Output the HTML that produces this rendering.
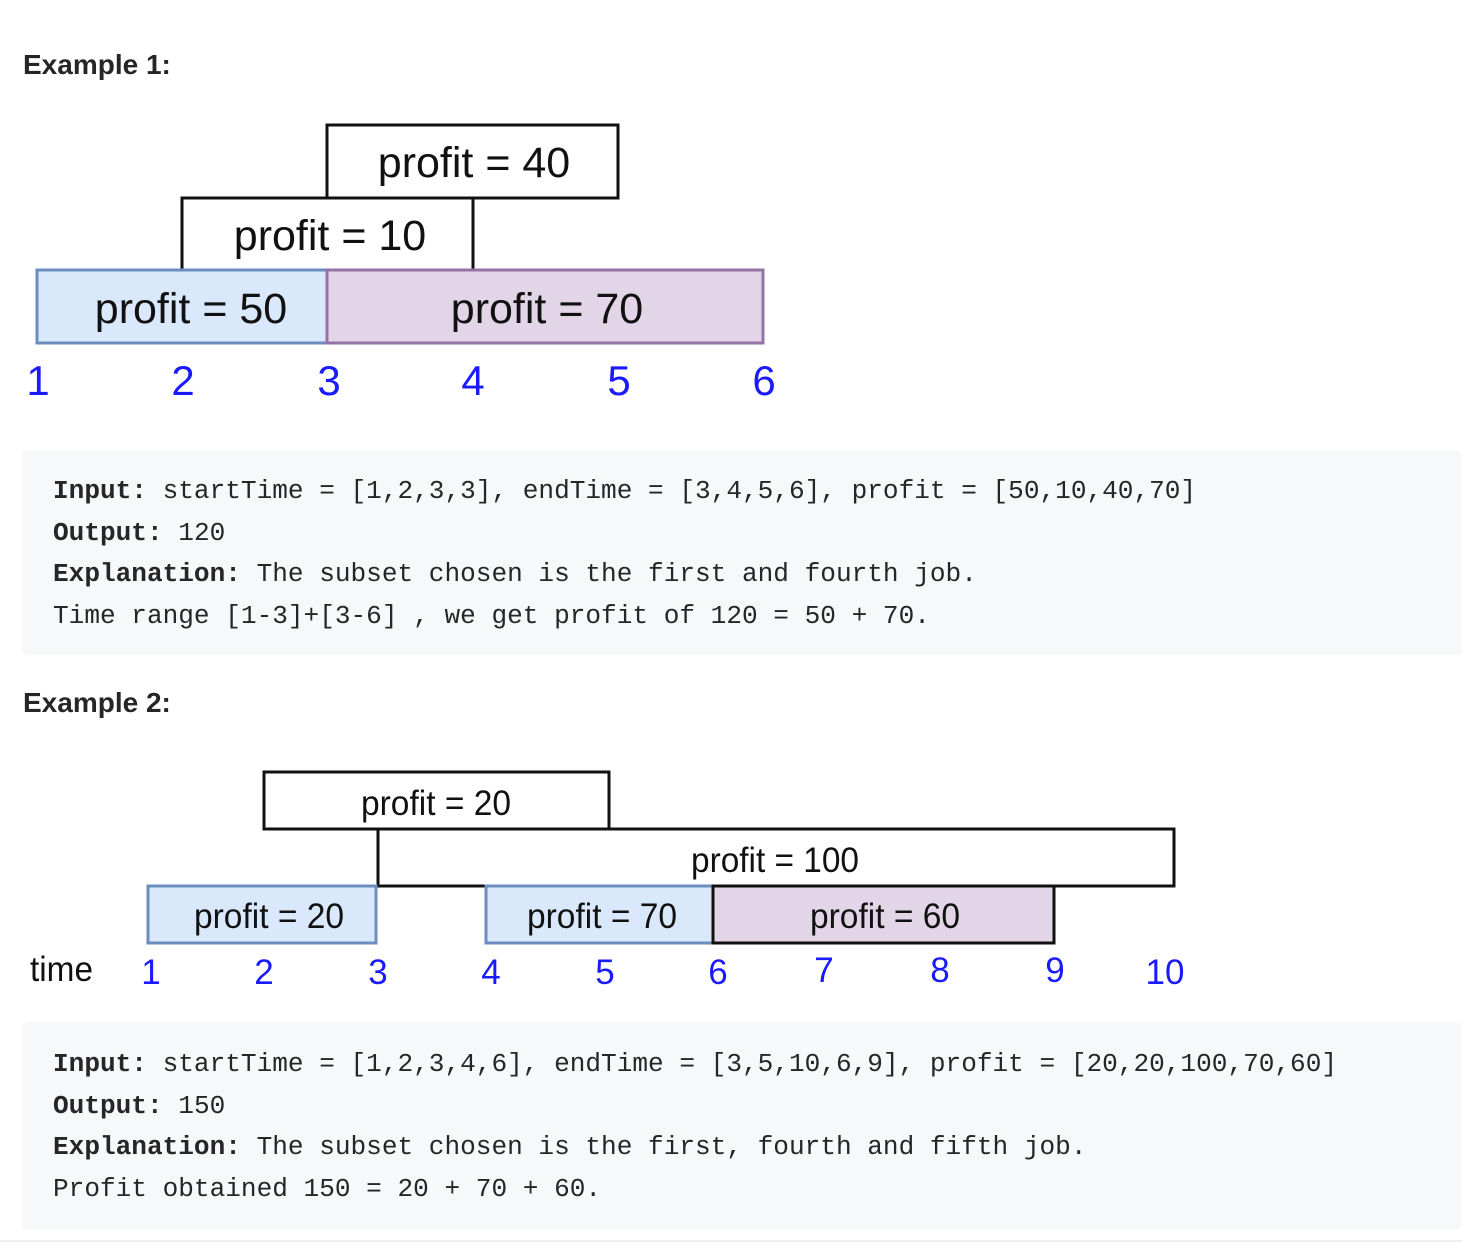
<!DOCTYPE html>
<html><head><meta charset="utf-8"><style>
html,body{margin:0;padding:0;background:#fff;width:1462px;height:1246px;overflow:hidden;position:relative}
.h{position:absolute;left:23px;font:bold 28px "Liberation Sans",sans-serif;color:#262626}
.pre{position:absolute;left:22px;width:1440px;background:#f7f8fa;border-radius:6px;font:26.1px "Liberation Mono",monospace;color:#262626;white-space:pre}
.pre div{position:absolute;left:31px}
b{font-weight:bold}
svg{position:absolute;left:0;top:0}
</style></head><body>
<div class="h" style="top:49px">Example 1:</div>
<div class="h" style="top:687px">Example 2:</div>
<svg width="1462" height="1246" font-family="Liberation Sans, sans-serif">
<g stroke-width="3">
<rect x="327" y="125" width="291" height="73" fill="#fff" stroke="#111"/>
<rect x="182" y="198" width="291" height="72" fill="#fff" stroke="#111"/>
<rect x="37" y="270" width="290" height="73" fill="#dae8fc" stroke="#6c8ebf"/>
<rect x="327" y="270" width="436" height="73" fill="#e1d5e7" stroke="#9673a6"/>
</g>
<g font-size="43" fill="#111" text-anchor="middle">
<text x="474" y="177">profit = 40</text>
<text x="330" y="250">profit = 10</text>
<text x="191" y="323">profit = 50</text>
<text x="547" y="323">profit = 70</text>
</g>
<g font-size="42" fill="#1a1aff" text-anchor="middle">
<text x="38" y="395">1</text><text x="183" y="395">2</text><text x="329" y="395">3</text><text x="473" y="395">4</text><text x="619" y="395">5</text><text x="764" y="395">6</text>
</g>
<g stroke-width="3">
<rect x="264" y="772" width="345" height="57" fill="#fff" stroke="#111"/>
<rect x="378" y="829" width="796" height="57" fill="#fff" stroke="#111"/>
<rect x="148" y="886" width="228" height="57" fill="#dae8fc" stroke="#6c8ebf"/>
<rect x="486" y="886" width="227" height="57" fill="#dae8fc" stroke="#6c8ebf"/>
<rect x="713" y="886" width="341" height="57" fill="#e1d5e7" stroke="#111"/>
</g>
<g font-size="35" fill="#111" text-anchor="middle">
<text x="436" y="815" textLength="150" lengthAdjust="spacingAndGlyphs">profit = 20</text>
<text x="775" y="872" textLength="168" lengthAdjust="spacingAndGlyphs">profit = 100</text>
<text x="269" y="928" textLength="150" lengthAdjust="spacingAndGlyphs">profit = 20</text>
<text x="602" y="928" textLength="150" lengthAdjust="spacingAndGlyphs">profit = 70</text>
<text x="885" y="928" textLength="150" lengthAdjust="spacingAndGlyphs">profit = 60</text>
</g>
<text x="30" y="981" font-size="35" fill="#111" textLength="63" lengthAdjust="spacingAndGlyphs">time</text>
<g font-size="35" fill="#1a1aff" text-anchor="middle">
<text x="151" y="984">1</text><text x="264" y="984">2</text><text x="378" y="984">3</text><text x="491" y="984">4</text><text x="605" y="984">5</text><text x="718" y="984">6</text><text x="824" y="982">7</text><text x="940" y="982">8</text><text x="1055" y="982">9</text><text x="1165" y="984">10</text>
</g>
<rect x="0" y="1240" width="1462" height="2" fill="#eee"/>
</svg>
<div class="pre" style="top:450px;height:205px">
<div style="top:26px"><b>Input:</b> startTime = [1,2,3,3], endTime = [3,4,5,6], profit = [50,10,40,70]</div>
<div style="top:68px"><b>Output:</b> 120</div>
<div style="top:109px"><b>Explanation:</b> The subset chosen is the first and fourth job.</div>
<div style="top:151px">Time range [1-3]+[3-6] , we get profit of 120 = 50 + 70.</div>
</div>
<div class="pre" style="top:1022px;height:208px">
<div style="top:27px"><b>Input:</b> startTime = [1,2,3,4,6], endTime = [3,5,10,6,9], profit = [20,20,100,70,60]</div>
<div style="top:69px"><b>Output:</b> 150</div>
<div style="top:110px"><b>Explanation:</b> The subset chosen is the first, fourth and fifth job.</div>
<div style="top:152px">Profit obtained 150 = 20 + 70 + 60.</div>
</div>
</body></html>
